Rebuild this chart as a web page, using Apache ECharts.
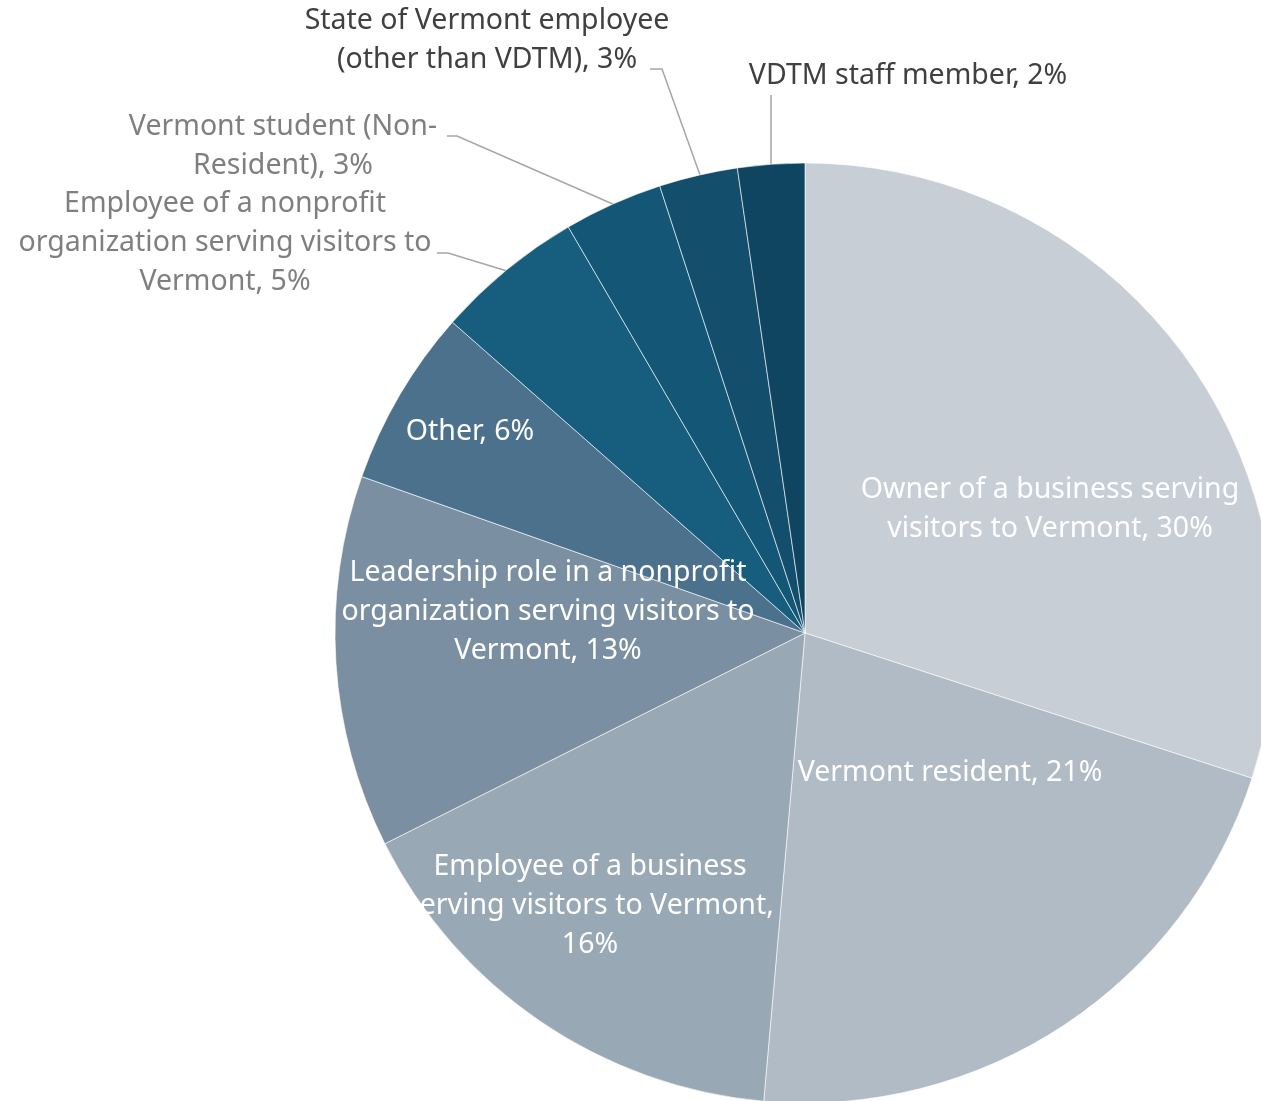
<!DOCTYPE html>
<html>
<head>
<meta charset="utf-8">
<style>
  html, body { margin: 0; padding: 0; background: #ffffff; }
  #chart { width: 1261px; height: 1101px; }
</style>
<script src="https://cdn.jsdelivr.net/npm/echarts@6/dist/echarts.min.js"></script>
</head>
<body>
<div id="chart"></div>
<script>
// ---- data ----
const categories = [
  'Owner of a business serving visitors to Vermont',
  'Vermont resident',
  'Employee of a business serving visitors to Vermont',
  'Leadership role in a nonprofit organization serving visitors to Vermont',
  'Other',
  'Employee of a nonprofit organization serving visitors to Vermont',
  'Vermont student (Non-Resident)',
  'State of Vermont employee (other than VDTM)',
  'VDTM staff member'
];
const values = [30.0, 21.4, 16.2, 12.8, 6.1, 5.1, 3.4, 2.7, 2.3];
// wrapped label text, {p} is replaced by the rounded percent
const labelTexts = [
  'Owner of a business serving\nvisitors to Vermont, {p}',
  'Vermont resident, {p}',
  'Employee of a business\nserving visitors to Vermont,\n{p}',
  'Leadership role in a nonprofit\norganization serving visitors to\nVermont, {p}',
  'Other, {p}',
  'Employee of a nonprofit\norganization serving visitors to\nVermont, {p}',
  'Vermont student (Non-\nResident), {p}',
  'State of Vermont employee\n(other than VDTM), {p}',
  'VDTM staff member, {p}'
];

// ---- styles ----
const colors = ['#c7ced6', '#b1bbc5', '#98a8b5', '#7a8fa2', '#4b718c', '#175d7d', '#145676', '#134e6c', '#0f4560'];
const outside = [false, false, false, false, false, true, true, true, true];
const labelColors = ['#ffffff', '#ffffff', '#ffffff', '#ffffff', '#ffffff', '#7f7f7f', '#7f7f7f', '#404040', '#404040'];
// label anchor (centre) positions, and leader line paths for outside labels
const labelAnchors = [
  [1050, 509], [950, 773], [590, 906], [548, 612], [470, 432],
  [225, 243], [283, 146], [487, 40], [908, 76]
];
const leaderPaths = [
  null, null, null, null, null,
  [[437, 253], [448, 253], [507, 271]],
  [[447, 136], [457, 136], [615, 205]],
  [[650, 69], [662, 69], [700, 175]],
  [[771, 95], [771, 95], [771, 165]]
];

const chart = echarts.init(document.getElementById('chart'), null, { renderer: 'canvas' });

const data = categories.map((name, i) => ({
  name: name,
  value: values[i],
  itemStyle: { color: colors[i] },
  label: {
    position: outside[i] ? 'outside' : 'inside',
    color: labelColors[i]
  },
  labelLine: {
    show: outside[i],
    lineStyle: { color: '#a6a6a6', width: 1.5 }
  }
}));

chart.setOption({
  animation: false,
  backgroundColor: '#ffffff',
  series: [{
    type: 'pie',
    center: [805, 633],
    radius: [0, 470],
    startAngle: 90,
    clockwise: true,
    avoidLabelOverlap: false,
    percentPrecision: 2,
    itemStyle: { borderColor: '#ffffff', borderWidth: 0.6 },
    label: {
      show: true,
      fontFamily: '"Noto Sans", sans-serif',
      fontSize: 28.5,
      lineHeight: 39,
      align: 'center',
      formatter: function (p) {
        return labelTexts[p.dataIndex].replace('{p}', Math.round(p.percent) + '%');
      }
    },
    labelLine: { show: true, length: 10, length2: 10 },
    labelLayout: function (params) {
      const i = params.dataIndex;
      const o = {
        x: labelAnchors[i][0],
        y: labelAnchors[i][1],
        align: 'center',
        verticalAlign: 'middle'
      };
      if (leaderPaths[i]) o.labelLinePoints = leaderPaths[i];
      return o;
    },
    emphasis: { disabled: true },
    data: data
  }]
});
</script>
</body>
</html>
